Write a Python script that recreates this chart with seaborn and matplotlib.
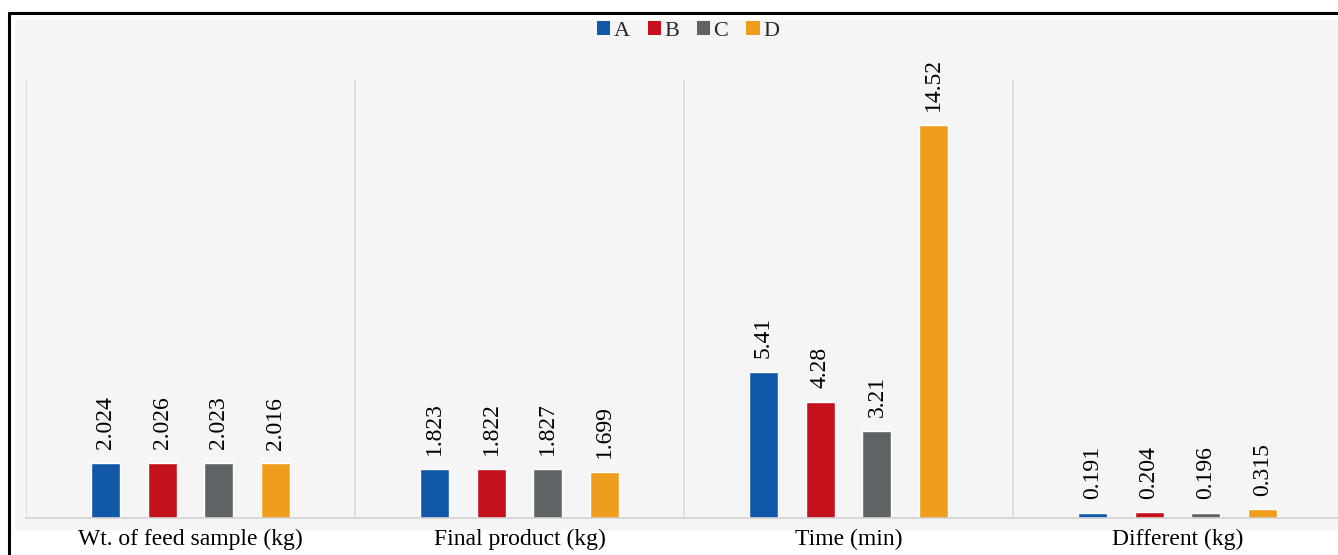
import matplotlib
matplotlib.use("Agg")
import matplotlib.pyplot as plt
from matplotlib.patches import Rectangle
from matplotlib.lines import Line2D
import pandas as pd
import seaborn as sns

# Measured quantities per run
categories = ["Wt. of feed sample (kg)", "Final product (kg)", "Time (min)", "Different (kg)"]
runs = ["A", "B", "C", "D"]
values_A = [2.024, 1.823, 5.41, 0.191]
values_B = [2.026, 1.822, 4.28, 0.204]
values_C = [2.023, 1.827, 3.21, 0.196]
values_D = [2.016, 1.699, 14.52, 0.315]
run_colors = ["#1158A9", "#C5111B", "#5E6465", "#EE9D1C"]

series = {"A": values_A, "B": values_B, "C": values_C, "D": values_D}
rows = []
for run in runs:
    for cat, val in zip(categories, series[run]):
        rows.append({"category": cat, "run": run, "value": val})
df = pd.DataFrame(rows)

sns.set_theme(style="white")
plt.rcParams["font.family"] = ["Liberation Serif", "DejaVu Serif"]

W, H = 1338, 555
fig = plt.figure(figsize=(W / 100, H / 100), dpi=100)
fig.patch.set_facecolor("white")

# light panel behind the chart
fig.add_artist(Rectangle((15 / W, 1 - 530 / H), 1.0, (530 - 20) / H,
                         transform=fig.transFigure, facecolor="#f5f5f5",
                         edgecolor="none", zorder=-5))
# frame lines along top and left edges
fig.add_artist(Line2D([9 / W, 1.0], [1 - 13 / H, 1 - 13 / H], transform=fig.transFigure,
                      color="black", lw=2.2, zorder=5))
fig.add_artist(Line2D([9 / W, 9 / W], [0, 1 - 13 / H], transform=fig.transFigure,
                      color="black", lw=2.2, zorder=5))

left, right = 26 / W, 1342 / W
bottom, top = 1 - 518 / H, 1 - 80 / H
ax = fig.add_axes([left, bottom, right - left, top - bottom])
ax.set_facecolor("none")

sns.barplot(data=df, x="category", y="value", hue="run", order=categories,
            hue_order=runs, palette=run_colors, width=0.69, gap=0.49,
            ax=ax, legend=False, saturation=1)

ymax = 16.18
ax.set_xlim(-0.5, 3.5)
ax.set_ylim(0, ymax)

# category separators
ax.vlines([-0.5, 0.5, 1.5, 2.5], 0, ymax, color="#dcdcdc", lw=1.2, zorder=0)

for cont in ax.containers:
    ax.bar_label(cont, fmt="%g", rotation=90, padding=10, fontsize=17, color="black")

for s in ["top", "right", "left"]:
    ax.spines[s].set_visible(False)
ax.spines["bottom"].set_color("#d2d2d2")
ax.spines["bottom"].set_linewidth(1.2)
ax.set_yticks([])
ax.set_xlabel("")
ax.set_ylabel("")
ax.tick_params(axis="x", length=0, pad=8, labelsize=17, labelcolor="black")

handles = [Rectangle((0, 0), 1, 1, facecolor=c, edgecolor="none") for c in run_colors]
fig.legend(handles, runs, loc="center", bbox_to_anchor=(688 / W, 1 - 31 / H),
           ncol=4, frameon=False, fontsize=16, handlelength=0.6, handleheight=0.6,
           handletextpad=0.15, columnspacing=0.8)

fig.savefig("out.png", dpi=100)
